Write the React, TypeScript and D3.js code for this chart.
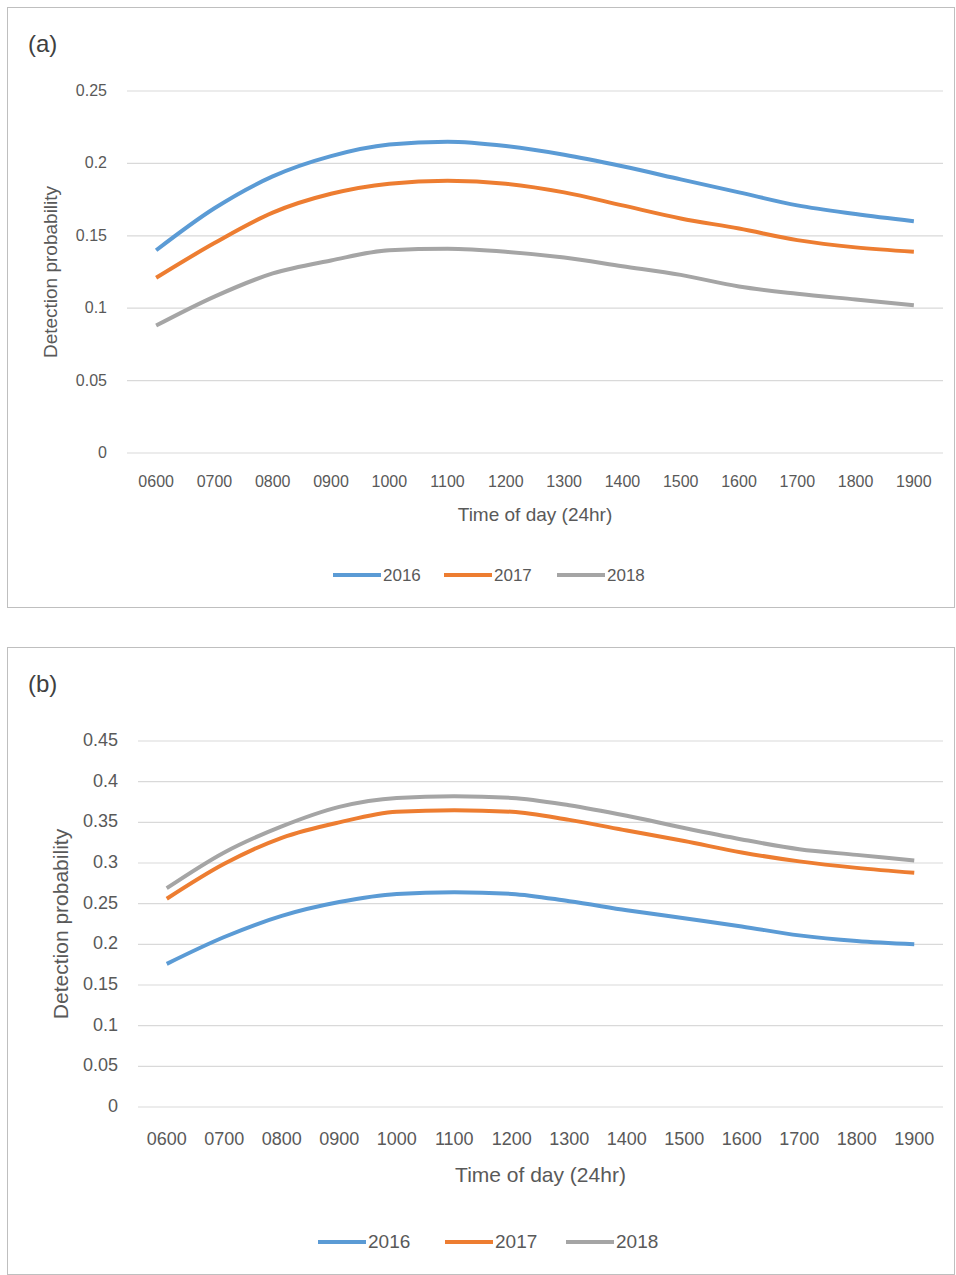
import React, { useEffect } from "react";
import * as d3 from "d3";

const hours = ["0600","0700","0800","0900","1000","1100","1200","1300","1400","1500","1600","1700","1800","1900"];
const seriesNames = ["2016", "2017", "2018"];
const colors = ["#5B9BD5", "#ED7D31", "#A5A5A5"];

const a2016 = [0.140,0.169,0.191,0.205,0.213,0.215,0.212,0.206,0.198,0.189,0.180,0.171,0.165,0.160];
const a2017 = [0.121,0.145,0.166,0.179,0.186,0.188,0.186,0.180,0.171,0.162,0.155,0.147,0.142,0.139];
const a2018 = [0.088,0.108,0.124,0.133,0.140,0.141,0.139,0.135,0.129,0.123,0.115,0.110,0.106,0.102];
const aTicks = [0, 0.05, 0.1, 0.15, 0.2, 0.25];

const b2016 = [0.176,0.209,0.235,0.252,0.262,0.264,0.262,0.253,0.242,0.232,0.222,0.211,0.204,0.200];
const b2017 = [0.256,0.299,0.331,0.350,0.363,0.365,0.363,0.353,0.340,0.327,0.313,0.302,0.294,0.288];
const b2018 = [0.269,0.313,0.345,0.369,0.380,0.382,0.380,0.371,0.358,0.343,0.329,0.317,0.310,0.303];
const bTicks = [0, 0.05, 0.1, 0.15, 0.2, 0.25, 0.3, 0.35, 0.4, 0.45];

const font = "'Liberation Sans', Arial, sans-serif";
const txt = "#595959";

type PanelProps = {
  top: number; height: number; label: string; series: number[][]; ticks: number[];
  left: number; plotTop: number; plotBottom: number; xLabelY: number; titleY: number;
  titleText: string; legendY: number; legendX: number[]; fs: number; yfs: number;
};

const Panel: React.FC<PanelProps> = (p) => {
  const right = 943;
  const x = d3.scalePoint<string>().domain(hours).range([p.left, right]).padding(0.5);
  const y = d3.scaleLinear().domain([0, p.ticks[p.ticks.length - 1]]).range([p.plotBottom, p.plotTop]);
  const line = d3.line<number>().x((_, i) => x(hours[i])!).y((d) => y(d)).curve(d3.curveMonotoneX);
  return (
    <g>
      <rect x={7.5} y={p.top + 0.5} width={947} height={p.height} fill="#fff" stroke="#bfbfbf" />
      <text x={28} y={p.top + 45} fontSize={24} fill="#404040" fontFamily={font}>{p.label}</text>
      {p.ticks.map((t) => (
        <g key={t}>
          <line x1={p.left} x2={right} y1={y(t)} y2={y(t)} stroke="#d9d9d9" strokeWidth={1.2} />
          <text x={p.left - 20} y={y(t) + 5} textAnchor="end" fontSize={p.fs} fill={txt} fontFamily={font}>{String(t)}</text>
        </g>
      ))}
      {hours.map((h) => (
        <text key={h} x={x(h)} y={p.xLabelY} textAnchor="middle" fontSize={p.fs} fill={txt} fontFamily={font}>{h}</text>
      ))}
      <text x={(p.left + right) / 2} y={p.titleY} textAnchor="middle" fontSize={p.fs + 3} fill={txt} fontFamily={font}>{p.titleText}</text>
      <text transform={`translate(${p.left - 70},${(p.plotTop + p.plotBottom) / 2}) rotate(-90)`} textAnchor="middle"
        fontSize={p.yfs} fill={txt} fontFamily={font}>Detection probability</text>
      {p.series.map((s, i) => (
        <path key={i} d={line(s)!} fill="none" stroke={colors[i]} strokeWidth={4} strokeLinejoin="round" />
      ))}
      {seriesNames.map((n, i) => (
        <g key={n}>
          <line x1={p.legendX[i]} x2={p.legendX[i] + 48} y1={p.legendY} y2={p.legendY} stroke={colors[i]} strokeWidth={4} />
          <text x={p.legendX[i] + 50} y={p.legendY + 6} fontSize={p.fs + 1} fill={txt} fontFamily={font}>{n}</text>
        </g>
      ))}
    </g>
  );
};

export default function App() {
  useEffect(() => {
    document.body.style.margin = "0";
    document.body.style.overflow = "hidden";
  }, []);
  return (
    <svg width={956} height={1275} style={{ display: "block", position: "absolute", left: 0, top: 0 }}>
      <rect width={956} height={1275} fill="#fff" />
      <Panel top={7} height={600} label="(a)" series={[a2016, a2017, a2018]} ticks={aTicks}
        left={127} plotTop={91} plotBottom={453} xLabelY={487} titleY={521} titleText="Time of day  (24hr)"
        legendY={575} legendX={[333, 444, 557]} fs={16} yfs={19} />
      <Panel top={647} height={627} label="(b)" series={[b2016, b2017, b2018]} ticks={bTicks}
        left={138} plotTop={741} plotBottom={1107} xLabelY={1145} titleY={1182} titleText="Time of day (24hr)"
        legendY={1242} legendX={[318, 445, 566]} fs={18} yfs={21} />
    </svg>
  );
}
